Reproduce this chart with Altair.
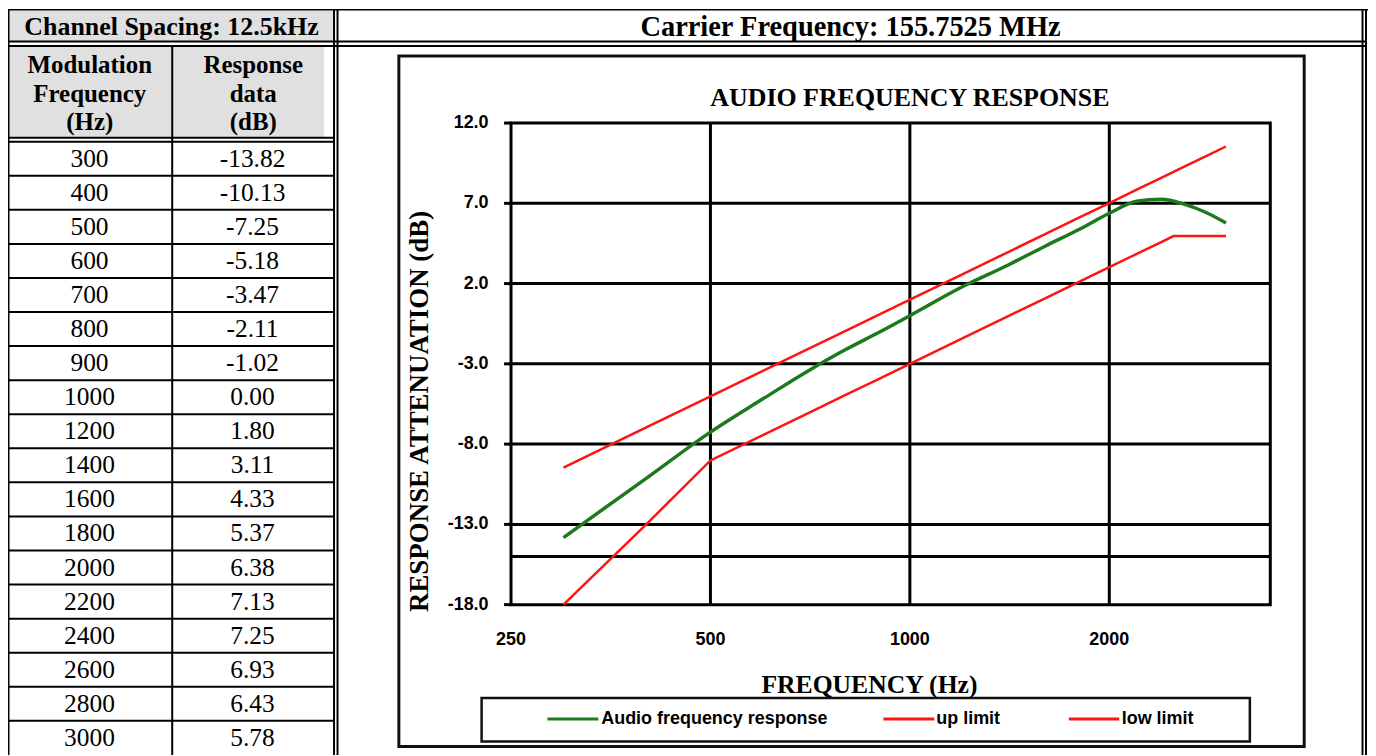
import altair as alt
import pandas as pd

# ---------------- data ----------------
freqs = [300, 400, 500, 600, 700, 800, 900, 1000, 1200, 1400, 1600, 1800,
         2000, 2200, 2400, 2600, 2800, 3000]
freq_labels = ["300", "400", "500", "600", "700", "800", "900", "1000", "1200",
               "1400", "1600", "1800", "2000", "2200", "2400", "2600", "2800", "3000"]
response_db = [-13.82, -10.13, -7.25, -5.18, -3.47, -2.11, -1.02, 0.00, 1.80,
               3.11, 4.33, 5.37, 6.38, 7.13, 7.25, 6.93, 6.43, 5.78]
response_labels = ["-13.82", "-10.13", "-7.25", "-5.18", "-3.47", "-2.11", "-1.02",
                   "0.00", "1.80", "3.11", "4.33", "5.37", "6.38", "7.13", "7.25",
                   "6.93", "6.43", "5.78"]

up_limit_freqs = [300, 400, 500, 600, 700, 800, 900, 1000, 1200, 1400, 1600, 1800,
                  2000, 2200, 2400, 2600, 2800, 3000]
up_limit_db = [-9.46, -6.96, -5.02, -3.44, -2.10, -0.94, 0.08, 1.00, 2.58, 3.92,
               5.08, 6.11, 7.02, 7.85, 8.60, 9.30, 9.94, 10.54]
low_limit_freqs = [300, 400, 500, 600, 700, 800, 900, 1000, 1200, 1400, 1600, 1800,
                   2000, 2200, 2400, 2500, 2600, 2800, 3000]
low_limit_db = [-18.0, -13.0, -9.02, -7.44, -6.10, -4.94, -3.92, -3.00, -1.42, -0.08,
                1.08, 2.11, 3.02, 3.85, 4.60, 4.96, 4.96, 4.96, 4.96]

series_names = ["Audio frequency response", "up limit", "low limit"]
series_colors = ["#1c7a1c", "#ff1414", "#ff1414"]

x_tick_values = [250, 500, 1000, 2000]
x_tick_labels = ["250", "500", "1000", "2000"]
x_domain = [250, 3500]
y_tick_values = [-18, -13, -8, -3, 2, 7, 12]
y_tick_labels = ["-18.0", "-13.0", "-8.0", "-3.0", "2.0", "7.0", "12.0"]
y_domain = [-18, 12]
extra_gridline_db = [-15]

channel_spacing_text = "Channel Spacing: 12.5kHz"
carrier_text = "Carrier Frequency: 155.7525 MHz"
freq_header = ["Modulation", "Frequency", "(Hz)"]
resp_header = ["Response", "data", "(dB)"]
chart_title = "AUDIO FREQUENCY RESPONSE"
x_title = "FREQUENCY (Hz)"
y_title = "RESPONSE ATTENUATION (dB)"

# ---------------- layout / style ----------------
W, H = 1364, 748
SERIF = "Liberation Serif, Times New Roman, serif"
SANS = "Liberation Sans Narrow, Arial Narrow, Liberation Sans, Arial, sans-serif"
GRAY = "#e0e0e0"

PX = alt.Scale(type="log", domain=x_domain, range=[504.5, 1266], nice=False)
PY = alt.Scale(domain=y_domain, range=[597.3, 114.3], nice=False, zero=False)
COLOR = alt.Scale(domain=series_names, range=series_colors)

# decorative table / frame lines (pixel layout)
rules_df = pd.DataFrame(
    [
        (0, W, 0.75, 0.75, 1.5),
        (0.75, 0.75, 0, H, 1.5),
        (0, 1362, 32.5, 32.5, 2),
        (0, 1362, 37, 37, 2),
        (0, 327, 129, 129, 2),
        (0, 327, 133, 133, 2),
        (164.7, 164.7, 37, H, 2),
        (327, 327, 0, H, 2),
        (330.5, 330.5, 0, H, 2),
        (1358.5, 1358.5, 0, H, 2),
        (1362, 1362, 0, H, 2),
    ],
    columns=["x", "x2", "y", "y2", "w"],
)
fills_df = pd.DataFrame(
    [(0, 327, 1.5, 32.5), (0, 164, 37, 129), (165.5, 317, 37, 129)],
    columns=["x", "x2", "y", "y2"],
)
frames_df = pd.DataFrame(
    [(392, 1300, 47, 739.5, 3.0), (475, 1245.5, 691, 734.5, 2.5)],
    columns=["x", "x2", "y", "y2", "w"],
)
header_df = pd.DataFrame(
    [
        (164, 18, 26, 0, channel_spacing_text),
        (845, 18, 28.5, 0, carrier_text),
        (82, 56, 25, 0, freq_header[0]),
        (82, 85, 25, 0, freq_header[1]),
        (82, 113, 25, 0, freq_header[2]),
        (246, 56, 25, 0, resp_header[0]),
        (246, 85, 25, 0, resp_header[1]),
        (246, 113, 25, 0, resp_header[2]),
        (904.5, 89, 26, 0, chart_title),
        (864, 678, 25.7, 0, x_title),
        (413, 403.5, 27, 270, y_title),
    ],
    columns=["x", "y", "s", "a", "t"],
)

fills = alt.Chart(fills_df).mark_rect(color=GRAY).encode(
    x=alt.X("x:Q", scale=None, axis=None), x2="x2:Q",
    y=alt.Y("y:Q", scale=None, axis=None), y2="y2:Q",
)
rules = alt.Chart(rules_df).mark_rule(color="black").encode(
    x=alt.X("x:Q", scale=None, axis=None), x2="x2:Q",
    y=alt.Y("y:Q", scale=None, axis=None), y2="y2:Q",
    strokeWidth=alt.StrokeWidth("w:Q", scale=None, legend=None),
)
frames = alt.Chart(frames_df).mark_rect(filled=False, stroke="#111111").encode(
    x=alt.X("x:Q", scale=None, axis=None), x2="x2:Q",
    y=alt.Y("y:Q", scale=None, axis=None), y2="y2:Q",
    strokeWidth=alt.StrokeWidth("w:Q", scale=None, legend=None),
)
headers = alt.Chart(header_df).mark_text(
    font=SERIF, fontWeight="bold", color="black", align="center", baseline="middle"
).encode(
    x=alt.X("x:Q", scale=None, axis=None),
    y=alt.Y("y:Q", scale=None, axis=None),
    size=alt.Size("s:Q", scale=None, legend=None),
    angle=alt.Angle("a:Q", scale=None, legend=None),
    text="t:N",
)

# ---------------- data table ----------------
n = len(freqs)
table_df = pd.DataFrame({
    "row": list(range(n)) * 2,
    "col": [0] * n + [1] * n,
    "label": freq_labels + response_labels,
})
TY = alt.Scale(domain=[0, n], range=[133, 748], nice=False, zero=False)
TX = alt.Scale(domain=[0, 2], range=[0, 327], nice=False, zero=False)

table_text = alt.Chart(table_df).transform_calculate(
    rc="datum.row + 0.5", cc="datum.col + 0.5"
).mark_text(font=SERIF, fontSize=25.5, color="black", baseline="middle").encode(
    x=alt.X("cc:Q", scale=TX, axis=None),
    y=alt.Y("rc:Q", scale=TY, axis=None),
    text="label:N",
)
row_lines_df = pd.DataFrame({"row": list(range(1, n)), "c0": 0, "c1": 2})
row_lines = alt.Chart(row_lines_df).mark_rule(color="black", strokeWidth=2).encode(
    x=alt.X("c0:Q", scale=TX, axis=None), x2="c1:Q",
    y=alt.Y("row:Q", scale=TY, axis=None),
)
table = alt.layer(row_lines, table_text)

# ---------------- plot ----------------
hgrid_df = pd.DataFrame({"v": extra_gridline_db + y_tick_values[1:-1],
                         "a": x_domain[0], "b": x_domain[1]})
vgrid_df = pd.DataFrame({"f": x_tick_values[1:], "a": y_domain[0], "b": y_domain[1]})
box_df = pd.DataFrame({"x0": [x_domain[0]], "x1": [x_domain[1]],
                       "y0": [y_domain[0]], "y1": [y_domain[1]]})
xt_df = pd.DataFrame({"f": x_tick_values, "lab": x_tick_labels})
yt_df = pd.DataFrame({"v": y_tick_values, "lab": y_tick_labels})

hgrid = alt.Chart(hgrid_df).mark_rule(color="black", strokeWidth=3).encode(
    x=alt.X("a:Q", scale=PX, axis=None), x2="b:Q",
    y=alt.Y("v:Q", scale=PY, axis=None),
)
vgrid = alt.Chart(vgrid_df).mark_rule(color="black", strokeWidth=3).encode(
    x=alt.X("f:Q", scale=PX, axis=None),
    y=alt.Y("a:Q", scale=PY, axis=None), y2="b:Q",
)
box = alt.Chart(box_df).mark_rect(filled=False, stroke="black", strokeWidth=3).encode(
    x=alt.X("x0:Q", scale=PX, axis=None), x2="x1:Q",
    y=alt.Y("y0:Q", scale=PY, axis=None), y2="y1:Q",
)
y_ticks = alt.Chart(yt_df).mark_rule(color="black", strokeWidth=3).encode(
    x=alt.value(497.5), x2=alt.value(505),
    y=alt.Y("v:Q", scale=PY, axis=None),
)
y_labels = alt.Chart(yt_df).mark_text(
    font=SANS, fontWeight="bold", fontSize=18, color="black", align="right",
    baseline="middle",
).encode(
    x=alt.value(482),
    y=alt.Y("v:Q", scale=PY, axis=None),
    text="lab:N",
)
x_labels = alt.Chart(xt_df).mark_text(
    font=SANS, fontWeight="bold", fontSize=18, color="black", align="center",
    baseline="middle",
).encode(
    x=alt.X("f:Q", scale=PX, axis=None),
    y=alt.value(632.5),
    text="lab:N",
)

limits_df = pd.concat([
    pd.DataFrame({"freq": up_limit_freqs, "db": up_limit_db, "series": series_names[1]}),
    pd.DataFrame({"freq": low_limit_freqs, "db": low_limit_db, "series": series_names[2]}),
])
green_df = pd.DataFrame({"freq": freqs, "db": response_db, "series": series_names[0]})

limits = alt.Chart(limits_df).mark_line(strokeWidth=2.5).encode(
    x=alt.X("freq:Q", scale=PX, axis=None),
    y=alt.Y("db:Q", scale=PY, axis=None),
    color=alt.Color("series:N", scale=COLOR, legend=None),
    order="freq:Q",
)
green = alt.Chart(green_df).mark_line(strokeWidth=3.5, interpolate="monotone").encode(
    x=alt.X("freq:Q", scale=PX, axis=None),
    y=alt.Y("db:Q", scale=PY, axis=None),
    color=alt.Color("series:N", scale=COLOR, legend=None),
    order="freq:Q",
)
plot = alt.layer(hgrid, vgrid, box, y_ticks, y_labels, x_labels, limits, green)

# ---------------- legend (drawn inside the boxed area) ----------------
legend_df = pd.DataFrame({
    "series": series_names,
    "x": [541, 878, 1064],
    "x2": [592, 929, 1114.5],
    "tx": [595, 931, 1117],
    "y": [712, 712, 712],
})
legend_sym = alt.Chart(legend_df).mark_rule(strokeWidth=3).encode(
    x=alt.X("x:Q", scale=None, axis=None), x2="x2:Q",
    y=alt.Y("y:Q", scale=None, axis=None),
    color=alt.Color("series:N", scale=COLOR, legend=None),
)
legend_txt = alt.Chart(legend_df).mark_text(
    font=SANS, fontWeight="bold", fontSize=18, color="black", align="left",
    baseline="middle",
).encode(
    x=alt.X("tx:Q", scale=None, axis=None),
    y=alt.Y("y:Q", scale=None, axis=None),
    text="series:N",
)

chart = alt.layer(
    fills, rules, frames, headers, table, plot, legend_sym, legend_txt
).resolve_scale(x="independent", y="independent").properties(
    width=W, height=H, autosize=alt.AutoSizeParams(type="none"), padding=0,
    background="white",
).configure_view(stroke=None)

chart.save("out.html", embed_options={"renderer": "svg", "actions": False})
